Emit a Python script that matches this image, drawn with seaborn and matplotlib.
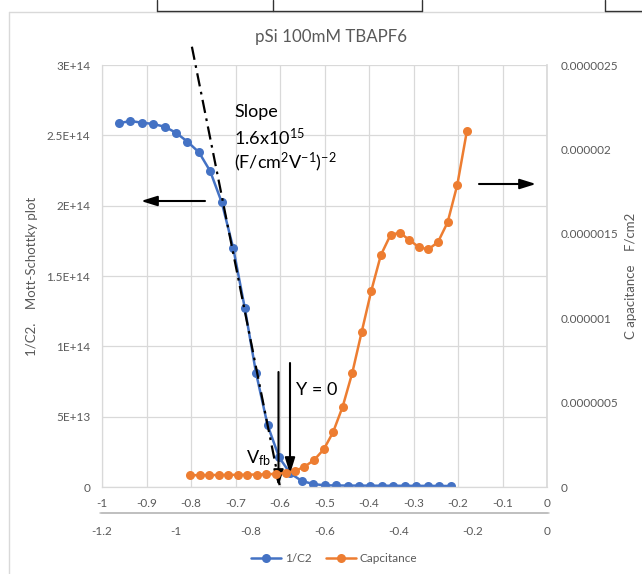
import numpy as np
import pandas as pd
import matplotlib
matplotlib.use("Agg")
import matplotlib.pyplot as plt
import seaborn as sns
from matplotlib.lines import Line2D

# ---------------- data ----------------
voltage = [-0.962, -0.936, -0.911, -0.885, -0.859, -0.834, -0.808, -0.782, -0.757, -0.731,
           -0.705, -0.679, -0.654, -0.628, -0.602, -0.577, -0.551, -0.525, -0.500, -0.474,
           -0.448, -0.422, -0.397, -0.371, -0.345, -0.320, -0.294, -0.268, -0.242, -0.216]
inv_c2 = [2.586e14, 2.602e14, 2.590e14, 2.581e14, 2.561e14, 2.519e14, 2.455e14, 2.379e14, 2.246e14, 2.024e14,
          1.697e14, 1.270e14, 8.13e13, 4.41e13, 2.11e13, 9.7e12, 4.3e12, 2.1e12, 1.2e12, 1.1e12,
          1.0e12, 1.0e12, 9.5e11, 9.0e11, 9.0e11, 8.5e11, 8.0e11, 8.0e11, 7.5e11, 7.0e11]
capacitance = [7.0e-8, 7.0e-8, 7.1e-8, 7.1e-8, 7.2e-8, 7.2e-8, 7.3e-8, 7.4e-8, 7.5e-8, 7.8e-8,
               8.3e-8, 9.6e-8, 1.2e-7, 1.6e-7, 2.23e-7, 3.24e-7, 4.76e-7, 6.77e-7, 9.16e-7, 1.161e-6,
               1.374e-6, 1.493e-6, 1.507e-6, 1.463e-6, 1.420e-6, 1.408e-6, 1.451e-6, 1.568e-6, 1.789e-6, 2.109e-6]
slope_x = [-0.798, -0.600]
slope_y = [3.13e14, 0.0]

x1_ticks = [-1, -0.9, -0.8, -0.7, -0.6, -0.5, -0.4, -0.3, -0.2, -0.1, 0]
x1_labels = ["-1", "-0.9", "-0.8", "-0.7", "-0.6", "-0.5", "-0.4", "-0.3", "-0.2", "-0.1", "0"]
x2_ticks = [-1.2, -1.0, -0.8, -0.6, -0.4, -0.2, 0]
x2_labels = ["-1.2", "-1", "-0.8", "-0.6", "-0.4", "-0.2", "0"]
y1_ticks = [0, 5e13, 1e14, 1.5e14, 2e14, 2.5e14, 3e14]
y1_labels = ["0", "5E+13", "1E+14", "1.5E+14", "2E+14", "2.5E+14", "3E+14"]
y2_ticks = [0, 5e-7, 1e-6, 1.5e-6, 2e-6, 2.5e-6]
y2_labels = ["0", "0.0000005", "0.000001", "0.0000015", "0.000002", "0.0000025"]

df = pd.DataFrame({"V": voltage, "invC2": inv_c2, "C": capacitance})

# ---------------- style ----------------
sns.set_theme(style="white")
plt.rcParams["font.family"] = ["Lato", "DejaVu Sans"]
plt.rcParams["mathtext.fontset"] = "custom"
plt.rcParams["mathtext.rm"] = "Lato"
plt.rcParams["mathtext.it"] = "Lato:italic"
plt.rcParams["mathtext.bf"] = "Lato:bold"

BLUE = "#4472C4"
ORANGE = "#ED7D31"
GRID = "#d9d9d9"
TXT = "#595959"

W, H = 642, 574
fig = plt.figure(figsize=(W / 100, H / 100), dpi=100)
fig.patch.set_facecolor("white")

def fx(px):
    return px / W

def fy(py):
    return 1 - py / H

L, R, T, B = 102, 547, 65, 487
pos = [fx(L), fy(B), (R - L) / W, (B - T) / H]
ax = fig.add_axes(pos)
ax2 = fig.add_axes(pos)
ax2.patch.set_alpha(0)

# blue series, primary axes
sns.lineplot(data=df, x="V", y="invC2", ax=ax, color=BLUE, marker="o", markersize=6.5,
             markeredgewidth=0, linewidth=1.8, legend=False)
# orange series, secondary axes
sns.lineplot(data=df, x="V", y="C", ax=ax2, color=ORANGE, marker="o", markersize=6.5,
             markeredgewidth=0, linewidth=1.8, legend=False)

# primary axes formatting
ax.set_xlim(-1, 0)
ax.set_ylim(0, 3e14)
ax.set_xticks(x1_ticks)
ax.set_xticklabels(x1_labels)
ax.set_yticks(y1_ticks)
ax.set_yticklabels(y1_labels)
ax.grid(True, color=GRID, linewidth=0.9)
ax.tick_params(axis="both", length=0, labelsize=8.5, labelcolor=TXT)
ax.tick_params(axis="x", pad=8)
ax.tick_params(axis="y", pad=8.5)
for s in ["top", "right"]:
    ax.spines[s].set_visible(False)
for s in ["left", "bottom"]:
    ax.spines[s].set_color(GRID)
    ax.spines[s].set_linewidth(0.9)
ax.set_xlabel("")
ax.set_ylabel("1/C2.    Mott-Schottky plot", fontsize=9.5, color=TXT, labelpad=6)

# secondary axes formatting
ax2.set_xlim(-1.2, 0)
ax2.set_ylim(0, 2.5e-6)
ax2.set_xticks(x2_ticks)
ax2.set_xticklabels(x2_labels)
ax2.set_yticks(y2_ticks)
ax2.set_yticklabels(y2_labels)
ax2.yaxis.tick_right()
ax2.yaxis.set_label_position("right")
ax2.grid(False)
ax2.tick_params(axis="both", length=0, labelsize=8.5, labelcolor=TXT)
ax2.tick_params(axis="x", pad=9.5)
ax2.tick_params(axis="y", pad=9.5)
for s in ["top", "left"]:
    ax2.spines[s].set_visible(False)
ax2.spines["right"].set_color(GRID)
ax2.spines["bottom"].set_color("#bfbfbf")
ax2.spines["bottom"].set_position(("outward", 18.7))
ax2.set_xlabel("")
ax2.set_ylabel("C apacitance    F/cm2", fontsize=9.5, color=TXT, labelpad=5)

# secondary horizontal axis line (drawn explicitly)
fig.add_artist(Line2D([fx(100), fx(549)], [fy(513), fy(513)], color="#bfbfbf", lw=1.1))

# slope line (dash-dot)
ax.plot(slope_x, slope_y, color="black", linewidth=1.6, linestyle=(0, (6, 2.5, 1.2, 2.5)),
        clip_on=False, zorder=5)

# title
fig.text(fx(331), fy(37), "pSi 100mM TBAPF6", ha="center", va="center", fontsize=12.2, color=TXT)

# annotations
def P(px, py):
    return (px, H - py)

arrow_kw = dict(arrowstyle="-|>,head_length=0.8,head_width=0.25", color="black", lw=1.5,
                shrinkA=0, shrinkB=0)
ax.annotate("", xy=P(141, 201), xytext=P(205, 201), xycoords="figure pixels",
            textcoords="figure pixels", arrowprops=arrow_kw, annotation_clip=False)
ax.annotate("", xy=P(536, 184), xytext=P(479, 184), xycoords="figure pixels",
            textcoords="figure pixels", arrowprops=arrow_kw, annotation_clip=False)
ax.annotate("", xy=P(278.5, 486), xytext=P(278.5, 372), xycoords="figure pixels",
            textcoords="figure pixels", arrowprops=arrow_kw, annotation_clip=False)
ax.annotate("", xy=P(290, 474), xytext=P(290, 363), xycoords="figure pixels",
            textcoords="figure pixels", arrowprops=arrow_kw, annotation_clip=False)

fig.text(fx(234), fy(112), "Slope", ha="left", va="center", fontsize=13, color="black")
fig.text(fx(234), fy(137), "1.6x10$^{15}$", ha="left", va="center", fontsize=13, color="black")
fig.text(fx(234), fy(162), "(F/cm$^{2}$V$^{-1}$)$^{-2}$", ha="left", va="center", fontsize=13, color="black")
fig.text(fx(296), fy(390), "Y = 0", ha="left", va="center", fontsize=13, color="black")
fig.text(fx(246), fy(458), "V$_{\\mathrm{fb}}$", ha="left", va="center", fontsize=13, color="black")

# legend
handles = [Line2D([0], [0], color=BLUE, marker="o", markersize=6.5, markeredgewidth=0, linewidth=1.8),
           Line2D([0], [0], color=ORANGE, marker="o", markersize=6.5, markeredgewidth=0, linewidth=1.8)]
fig.legend(handles, ["1/C2", "Capcitance"], loc="center", bbox_to_anchor=(fx(334), fy(559)),
           ncol=2, frameon=False, fontsize=8.5, labelcolor=TXT, handlelength=2.6,
           handletextpad=0.3, columnspacing=1.2)

# chart border and screenshot artefacts
fig.add_artist(Line2D([fx(9), fx(642)], [fy(12), fy(12)], color="#d9d9d9", lw=1))
fig.add_artist(Line2D([fx(9), fx(9)], [fy(12), fy(574)], color="#d9d9d9", lw=1))
for xv in [156.5, 272.5, 422, 605]:
    fig.add_artist(Line2D([fx(xv), fx(xv)], [fy(0), fy(11)], color="#333333", lw=1))
fig.add_artist(Line2D([fx(156.5), fx(422)], [fy(11), fy(11)], color="#333333", lw=1))
fig.add_artist(Line2D([fx(605), fx(642)], [fy(11), fy(11)], color="#333333", lw=1))

fig.savefig("out.png", dpi=100)
